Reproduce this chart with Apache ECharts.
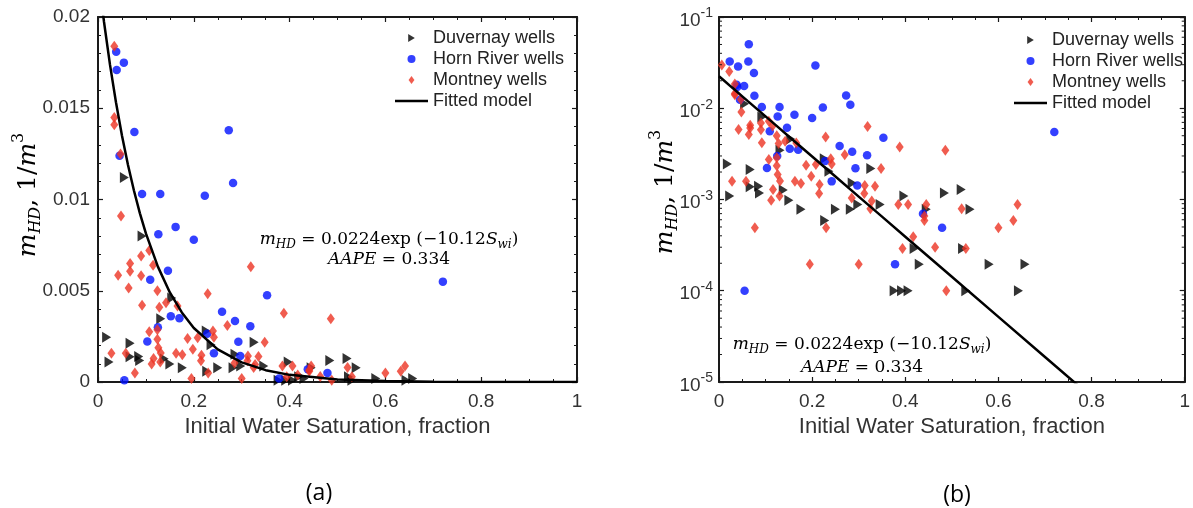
<!DOCTYPE html>
<html>
<head>
<meta charset="utf-8">
<script src="https://cdn.jsdelivr.net/npm/echarts@6.0.0/dist/echarts.min.js"></script>
<style>
  html, body { margin: 0; padding: 0; background: #fff; }
  #chart { width: 1193px; height: 508px; }
</style>
</head>
<body>
<div id="chart"></div>
<script>
// ---------------- data ----------------
// [initial water saturation, m_HD (1/m^3)]
const duvernay = [
  [0.018,0.00245],[0.023,0.00109],[0.055,0.0112],[0.067,0.00213],[0.067,0.00138],
  [0.085,0.0014],[0.087,0.00118],[0.092,0.008],[0.131,0.00346],[0.138,0.00127],
  [0.15,0.00098],[0.154,0.0046],[0.176,0.00078],[0.226,0.00279],[0.227,0.00059],
  [0.236,0.00204],[0.25,0.00078],[0.282,0.00078],[0.286,0.00152],[0.298,0.00088],
  [0.326,0.00218],[0.346,0.00088],[0.376,0.0001],[0.392,0.0001],[0.406,0.0001],
  [0.397,0.00109],[0.419,0.00029],[0.43,0.000195],[0.445,0.00078],[0.484,0.00118],
  [0.52,0.00129],[0.523,0.00029],[0.53,0.0001],[0.539,0.00078],[0.58,0.000195],
  [0.643,0.0001],[0.657,0.000195]
];
const hornRiver = [
  [0.023,0.0325],[0.038,0.0181],[0.039,0.0171],[0.041,0.0287],[0.045,0.0124],
  [0.054,0.0175],[0.055,0.0001],[0.063,0.0325],[0.064,0.0502],[0.075,0.0243],
  [0.076,0.0137],[0.092,0.0103],[0.103,0.00222],[0.109,0.0056],[0.125,0.003],
  [0.126,0.0081],[0.13,0.0103],[0.146,0.0061],[0.152,0.0036],[0.162,0.0085],
  [0.17,0.0035],[0.2,0.0078],[0.207,0.0294],[0.223,0.0102],[0.228,0.00265],
  [0.242,0.00158],[0.259,0.00385],[0.273,0.0138],[0.282,0.0109],[0.286,0.00334],
  [0.293,0.0022],[0.297,0.00142],[0.318,0.00305],[0.353,0.00475],[0.378,0.000195],
  [0.438,0.0007],[0.479,0.00049],[0.72,0.0055]
];
const montney = [
  [0.006,0.0298],[0.022,0.0252],[0.028,0.00158],[0.034,0.0184],[0.034,0.0145],
  [0.034,0.0141],[0.042,0.00585],[0.047,0.0125],[0.048,0.0091],[0.058,0.00158],
  [0.064,0.00515],[0.067,0.0065],[0.067,0.00607],[0.077,0.00049],[0.09,0.0069],
  [0.09,0.00582],[0.092,0.0042],[0.107,0.0072],[0.107,0.00275],[0.112,0.00098],
  [0.115,0.0064],[0.116,0.00129],[0.124,0.005],[0.124,0.00286],[0.124,0.00234],
  [0.126,0.00188],[0.128,0.0041],[0.13,0.00109],[0.131,0.00159],[0.142,0.00434],
  [0.163,0.00158],[0.166,0.00416],[0.176,0.0015],[0.187,0.00238],[0.195,0.000195],
  [0.198,0.0018],[0.208,0.00242],[0.215,0.00116],[0.216,0.00146],[0.229,0.00484],
  [0.23,0.00049],[0.24,0.0028],[0.242,0.00245],[0.27,0.0031],[0.285,0.00104],
  [0.3,0.000195],[0.312,0.00116],[0.313,0.00142],[0.319,0.00632],[0.325,0.00079],
  [0.328,0.00096],[0.335,0.0014],[0.348,0.00218],[0.385,0.00088],[0.388,0.00377],
  [0.394,0.00029],[0.406,0.00088],[0.417,0.00039],[0.441,0.00059],[0.441,0.00066],
  [0.445,0.00088],[0.464,0.0003],[0.486,0.00346],[0.488,0.0001],[0.521,0.00079],
  [0.53,0.00029],[0.6,0.00049],[0.632,0.00059],[0.641,0.00088]
];
// fitted model m_HD = 0.0224 exp(-10.12 Swi), sampled values
const fitX = [0, 0.0125, 0.025, 0.0375, 0.05, 0.0625, 0.075, 0.0875, 0.1, 0.125, 0.15, 0.175, 0.2, 0.25, 0.3, 0.35, 0.4, 0.5, 0.6, 0.7, 0.8, 0.9, 1.0];
const fitY = [0.0224, 0.01974, 0.01739, 0.01533, 0.01351, 0.0119, 0.01049, 0.00924, 0.008142, 0.006322, 0.004909, 0.003812, 0.00296, 0.001784, 0.001076, 0.000649, 0.000391, 0.0001422, 0.0000517, 0.0000188, 0.00000683, 0.00000248, 0.0000009];

const seriesNames = ['Duvernay wells', 'Horn River wells', 'Montney wells', 'Fitted model'];
const equationLine1 = '{i|m}{sub|HD}{n| = 0.0224exp (\u221210.12}{i|S}{sub|wi}{n|)}';
const equationLine2 = '{i|AAPE}{n| = 0.334}';
const yTitle = '{i|m}{sub|HD}{n|, 1/}{i|m}{sup|3}';
const panelLabels = ['(a)', '(b)'];

// ---------------- styling ----------------
const AX = '#1a1a1a';
const LBL = '#333333';
const SANS = 'Liberation Sans';
const SERIF = 'DejaVu Serif';
const BLUE = '#0010ff';
const RED = '#ec3323';
const triPath = 'path://M0,0 L10,6 L0,12 Z';
const diaPath = 'path://M4,0 L8,5.5 L4,11 L0,5.5 Z';
const linePath = 'path://M0,0 L33,0 L33,2.5 L0,2.5 Z';

const fitData = fitX.map((x, i) => [x, fitY[i]]);

function xAxes(gridIndex) {
  const common = {
    gridIndex, type: 'value', min: 0, max: 1, interval: 0.2,
    axisLine: { show: true, onZero: false, lineStyle: { color: AX, width: 2 } },
    axisTick: { show: true, inside: true, length: 5, lineStyle: { color: AX, width: 1.2 } },
    minorTick: { show: true, splitNumber: 4, length: 3, lineStyle: { color: AX, width: 1 } },
    splitLine: { show: false }, minorSplitLine: { show: false }
  };
  return [
    Object.assign({}, common, {
      position: 'bottom',
      axisLabel: { color: LBL, fontSize: 19, fontFamily: SANS, margin: 10 },
      name: 'Initial Water Saturation, fraction', nameLocation: 'middle', nameGap: 34,
      nameTextStyle: { fontSize: 22, color: LBL, fontFamily: SANS }
    }),
    Object.assign({}, common, { position: 'top', axisLabel: { show: false } })
  ];
}

const linYCommon = {
  gridIndex: 0, type: 'value', min: 0, max: 0.02, interval: 0.005,
  axisLine: { show: true, onZero: false, lineStyle: { color: AX, width: 2 } },
  axisTick: { show: true, inside: true, length: 5, lineStyle: { color: AX, width: 1.2 } },
  minorTick: { show: true, splitNumber: 5, length: 3, lineStyle: { color: AX, width: 1 } },
  splitLine: { show: false }
};
const logYCommon = {
  gridIndex: 1, type: 'log', logBase: 10, min: 1e-5, max: 1e-1, splitNumber: 4,
  axisLine: { show: true, onZero: false, lineStyle: { color: AX, width: 2 } },
  axisTick: { show: true, inside: true, length: 5, lineStyle: { color: AX, width: 1.2 } },
  minorTick: { show: false },
  splitLine: { show: false }
};

// log minor tick positions (2..9 x 10^n) drawn via the axis scale
const logMinor = [];
for (let e = -5; e < -1; e++) for (let k = 2; k <= 9; k++) logMinor.push([0, k * Math.pow(10, e)]);

function scatterSeries(xi, yi) {
  return [
    { name: seriesNames[0], type: 'scatter', xAxisIndex: xi, yAxisIndex: yi, data: duvernay,
      symbol: triPath, symbolSize: [9, 11], itemStyle: { color: '#000' }, z: 3 },
    { name: seriesNames[1], type: 'scatter', xAxisIndex: xi, yAxisIndex: yi, data: hornRiver,
      symbol: 'circle', symbolSize: 8.5, itemStyle: { color: BLUE }, z: 3 },
    { name: seriesNames[2], type: 'scatter', xAxisIndex: xi, yAxisIndex: yi, data: montney,
      symbol: diaPath, symbolSize: [8, 11], itemStyle: { color: RED }, z: 3 },
    { name: seriesNames[3], type: 'line', xAxisIndex: xi, yAxisIndex: yi, data: fitData,
      symbol: 'none', showSymbol: false, clip: true, lineStyle: { color: '#000', width: 2.5 }, itemStyle: { color: '#000' }, z: 4 }
  ];
}

function legendFor(left, top) {
  return {
    left, top, orient: 'vertical', itemWidth: 33, itemHeight: 8, itemGap: 3,
    selectedMode: false, padding: 0,
    textStyle: { fontSize: 18, color: '#222', fontFamily: SANS },
    data: [
      { name: seriesNames[0], icon: triPath },
      { name: seriesNames[1], icon: 'circle' },
      { name: seriesNames[2], icon: diaPath },
      { name: seriesNames[3], icon: linePath, itemStyle: { color: '#000' } }
    ]
  };
}

const richEq = {
  i: { fontFamily: SERIF, fontStyle: 'italic', fontSize: 17, lineHeight: 20, color: '#000' },
  n: { fontFamily: SERIF, fontSize: 17, lineHeight: 20, color: '#000' },
  sub: { fontFamily: SERIF, fontStyle: 'italic', fontSize: 12, lineHeight: 11, padding: [9, 0, 0, 0], color: '#000' }
};
const richTitle = {
  i: { fontFamily: SERIF, fontStyle: 'italic', fontSize: 25, lineHeight: 36, color: '#000' },
  n: { fontFamily: SERIF, fontSize: 25, lineHeight: 36, color: '#000' },
  sub: { fontFamily: SERIF, fontStyle: 'italic', fontSize: 16, lineHeight: 16, padding: [16, 0, 0, 0], color: '#000' },
  sup: { fontFamily: SERIF, fontSize: 16, lineHeight: 16, padding: [0, 0, 18, 0], color: '#000' }
};

const option = {
  animation: false,
  backgroundColor: '#fff',
  grid: [
    { left: 98, top: 17, width: 479, height: 365 },
    { left: 719, top: 17, width: 469, height: 365 }
  ],
  xAxis: [].concat(xAxes(0), xAxes(1)),
  yAxis: [
    Object.assign({}, linYCommon, { position: 'left',
      axisLabel: { color: LBL, fontSize: 19, fontFamily: SANS, margin: 8 } }),
    Object.assign({}, linYCommon, { position: 'right', axisLabel: { show: false } }),
    Object.assign({}, logYCommon, { position: 'left',
      axisLabel: {
        margin: 6,
        formatter: v => '{b|10}{s|' + Math.round(Math.log10(v)) + '}',
        rich: {
          b: { fontSize: 19, lineHeight: 19, padding: [7, 0, 0, 0], color: LBL, fontFamily: SANS },
          s: { fontSize: 14, lineHeight: 13, padding: [3, 0, 10, 0], color: LBL, fontFamily: SANS }
        }
      } }),
    Object.assign({}, logYCommon, { position: 'right', axisLabel: { show: false } })
  ],
  legend: [legendFor(395, 29), legendFor(1014, 31)],
  series: [].concat(
    scatterSeries(0, 0),
    scatterSeries(2, 2),
    [{
      type: 'custom', xAxisIndex: 2, yAxisIndex: 2, data: logMinor, silent: true, z: 5,
      encode: { x: 0, y: 1 },
      renderItem: (params, api) => {
        const v = api.value(1);
        const pL = api.coord([0, v]);
        const pR = api.coord([1, v]);
        return { type: 'group', children: [
          { type: 'line', shape: { x1: pL[0], y1: pL[1], x2: pL[0] + 3, y2: pL[1] }, style: { stroke: AX, lineWidth: 1 } },
          { type: 'line', shape: { x1: pR[0] - 3, y1: pR[1], x2: pR[0], y2: pR[1] }, style: { stroke: AX, lineWidth: 1 } }
        ] };
      }
    }]
  ),
  graphic: [
    { type: 'text', x: 389, y: 250, z: 10, style: { text: equationLine1 + '\n' + equationLine2, rich: richEq, align: 'center', verticalAlign: 'middle' } },
    { type: 'text', x: 862, y: 356, z: 10, style: { text: equationLine1 + '\n' + equationLine2, rich: Object.assign({}, richEq, {
        i: Object.assign({}, richEq.i, { lineHeight: 23 }), n: Object.assign({}, richEq.n, { lineHeight: 23 }),
        sub: Object.assign({}, richEq.sub, { padding: [11, 0, 0, 0] }) }), align: 'center', verticalAlign: 'middle' } },
    { type: 'text', x: 28, y: 195, rotation: Math.PI / 2, style: { text: yTitle, rich: richTitle, align: 'center', verticalAlign: 'middle' } },
    { type: 'text', x: 665, y: 192, rotation: Math.PI / 2, style: { text: yTitle, rich: richTitle, align: 'center', verticalAlign: 'middle' } },
    { type: 'text', x: 319, y: 493, style: { text: panelLabels[0], fontSize: 23, fontFamily: 'Open Sans', fill: '#000', align: 'center', verticalAlign: 'middle' } },
    { type: 'text', x: 957, y: 495, style: { text: panelLabels[1], fontSize: 23, fontFamily: 'Open Sans', fill: '#000', align: 'center', verticalAlign: 'middle' } }
  ]
};

const chart = echarts.init(document.getElementById('chart'), null, { renderer: 'canvas' });
chart.setOption(option);
</script>
</body>
</html>
